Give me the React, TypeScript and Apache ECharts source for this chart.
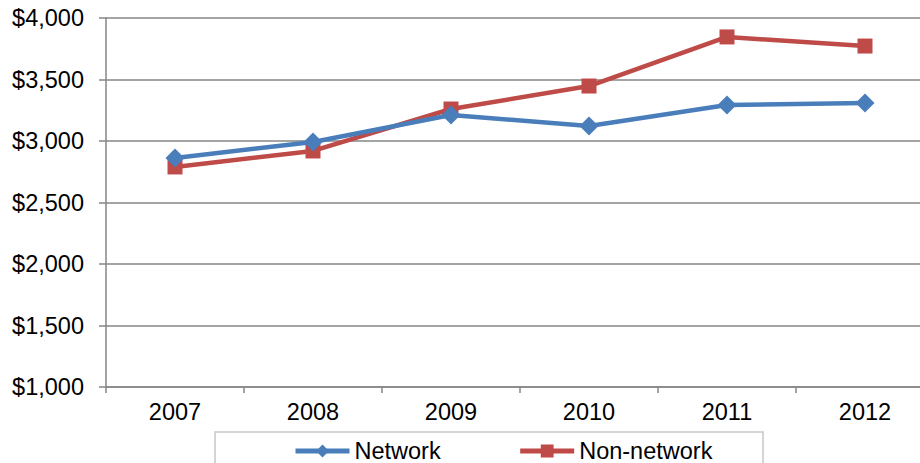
import React, { useEffect, useRef } from "react";
import * as echarts from "echarts";

const years = ["2007", "2008", "2009", "2010", "2011", "2012"];
const network = [2862, 2992, 3211, 3122, 3293, 3309];
const nonNetwork = [2789, 2919, 3260, 3447, 3846, 3772];

export default function App() {
  const ref = useRef<HTMLDivElement>(null);
  useEffect(() => {
    const chart = echarts.init(ref.current!, null, { renderer: "svg" });
    const font = "'Liberation Sans', Arial, sans-serif";
    chart.setOption({
      animation: false,
      backgroundColor: "#ffffff",
      textStyle: { fontFamily: font },
      grid: { left: 106, top: 18, width: 828, height: 369, containLabel: false },
      graphic: [
        {
          type: "rect",
          shape: { x: 215, y: 432, width: 548, height: 40 },
          style: { fill: "#ffffff", stroke: "#c8c8c8", lineWidth: 1.5 },
          z: 0,
        },
      ],
      legend: {
        left: 293,
        top: 439,
        itemWidth: 54,
        itemHeight: 16,
        itemGap: 77,
        padding: 0,
        lineStyle: { width: 5 },
        textStyle: { fontFamily: font, fontSize: 23.5, color: "#000" },
        data: ["Network", "Non-network"],
      },
      xAxis: {
        type: "category",
        data: years,
        boundaryGap: true,
        axisLine: { lineStyle: { color: "#868686", width: 1.5 } },
        axisTick: { show: true, length: 6, lineStyle: { color: "#868686", width: 1.5 } },
        axisLabel: { color: "#000", fontSize: 23.5, fontFamily: font, margin: 13 },
      },
      yAxis: {
        type: "value",
        min: 1000,
        max: 4000,
        interval: 500,
        axisLine: { show: true, lineStyle: { color: "#868686", width: 1.5 } },
        axisTick: { show: true, length: 7, lineStyle: { color: "#868686", width: 1.5 } },
        splitLine: { lineStyle: { color: "#868686", width: 1.5 } },
        axisLabel: {
          color: "#000",
          fontSize: 23.5,
          fontFamily: font,
          margin: 22,
          formatter: (v: number) => "$" + v.toLocaleString("en-US"),
        },
      },
      series: [
        {
          name: "Network",
          type: "line",
          data: network,
          symbol: "diamond",
          symbolSize: 19,
          lineStyle: { width: 4.5, color: "#4A7EBB" },
          itemStyle: { color: "#4A7EBB" },
          z: 3,
        },
        {
          name: "Non-network",
          type: "line",
          data: nonNetwork,
          symbol: "rect",
          symbolSize: 15,
          lineStyle: { width: 4.5, color: "#BE4B48" },
          itemStyle: { color: "#BE4B48" },
          z: 2,
        },
      ],
    });
    return () => chart.dispose();
  }, []);
  return (
    <div style={{ width: 920, height: 463, position: "absolute", left: 0, top: 0, overflow: "hidden" }}>
      <div ref={ref} style={{ width: 960, height: 463 }} />
    </div>
  );
}
